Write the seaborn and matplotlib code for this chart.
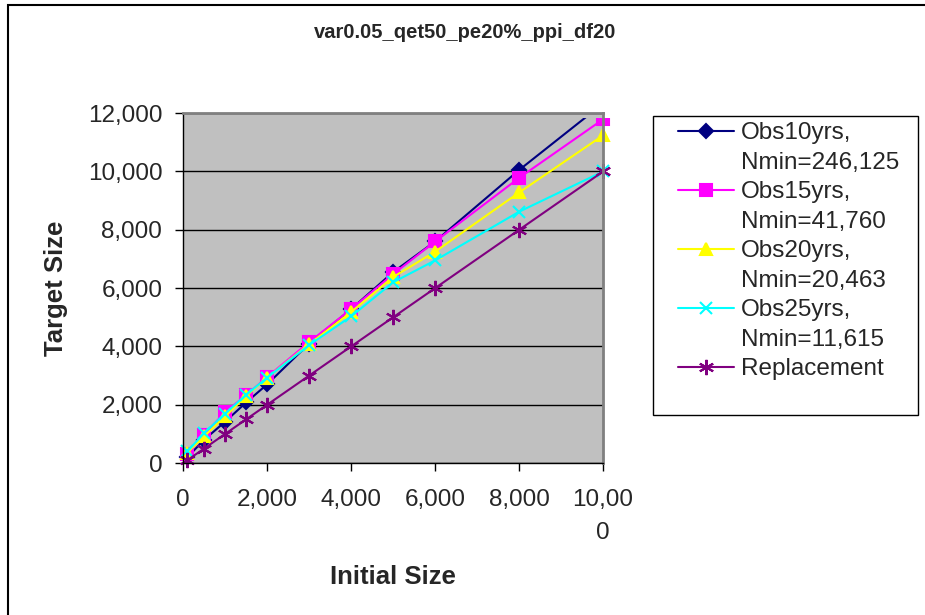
import pandas as pd
import matplotlib.pyplot as plt
import matplotlib.ticker as mticker
from matplotlib.patches import Rectangle
from matplotlib.lines import Line2D
import seaborn as sns

# initial sizes (x axis)
initial = [100, 500, 1000, 1500, 2000, 3000, 4000, 5000, 6000, 8000, 10000]

# target sizes
obs10 = [200, 800, 1420, 2080, 2700, 4100, 5280, 6550, 7600, 10050, 12330]
obs15 = [300, 980, 1750, 2330, 2950, 4150, 5280, 6480, 7600, 9780, 11790]
obs20 = [360, 920, 1600, 2300, 2930, 4080, 5180, 6380, 7250, 9280, 11240]
obs25 = [400, 1030, 1700, 2340, 2930, 4050, 5030, 6200, 6950, 8620, 10000]
replacement = [100, 500, 1000, 1500, 2000, 3000, 4000, 5000, 6000, 8000, 10000]

names = ["Obs10yrs,", "Obs15yrs,", "Obs20yrs,", "Obs25yrs,", "Replacement"]
nmins = ["Nmin=246,125", "Nmin=41,760", "Nmin=20,463", "Nmin=11,615", None]
series = [obs10, obs15, obs20, obs25, replacement]
colors = ["#000080", "#FF00FF", "#FFFF00", "#00FFFF", "#800080"]
marks = ["D", "s", "^", "x", (6, 2, 0)]
msizes = [7, 8, 9, 9, 11]

sns.set_style("white")
plt.rcParams['font.family'] = ['Liberation Sans', 'DejaVu Sans']

fig = plt.figure(figsize=(9.25, 6.15), dpi=100)
ax = fig.add_axes([0.198, 0.247, 0.454, 0.569])
ax.set_facecolor("#C0C0C0")

for lab, vals, c, m, ms in zip(names, series, colors, marks, msizes):
    d = pd.DataFrame({"Initial Size": initial, "Target Size": vals})
    sns.lineplot(data=d, x="Initial Size", y="Target Size", color=c, marker=m,
                 markersize=ms, markeredgecolor=c, markeredgewidth=1.5,
                 linewidth=1.5, label=lab, ax=ax, legend=False)

# clip a little outside the plot area, like the original
clip = Rectangle((-0.03, -0.03), 1.06, 1.015, transform=ax.transAxes)
for l in ax.lines:
    l.set_clip_path(clip)

ax.set_xlim(0, 10000)
ax.set_ylim(0, 12000)
ax.set_yticks(range(0, 12001, 2000))
ax.set_xticks(range(0, 10001, 2000))
ax.yaxis.set_major_formatter(mticker.FuncFormatter(lambda v, p: f"{int(v):,}"))
ax.set_xticklabels(["0", "2,000", "4,000", "6,000", "8,000", "10,00\n0"], linespacing=1.64)
ax.tick_params(axis="both", labelsize=17.5, direction="out", length=6, width=1,
               color="black", bottom=True, left=True)
ax.tick_params(axis="x", pad=13)
ax.tick_params(axis="y", pad=9)
ax.yaxis.grid(True, color="black", linewidth=1)
ax.set_axisbelow(True)
for side in ["left", "bottom"]:
    ax.spines[side].set_color("black")
    ax.spines[side].set_linewidth(1)
for side in ["right", "top"]:
    ax.spines[side].set_color("#808080")
    ax.spines[side].set_linewidth(2)

ax.set_xlabel("Initial Size", fontsize=18.5, fontweight="bold", labelpad=15)
ax.set_ylabel("Target Size", fontsize=18.5, fontweight="bold", labelpad=14)
fig.text(0.503, 1 - 38 / 615, "var0.05_qet50_pe20%_ppi_df20", fontsize=14.5,
         fontweight="bold", ha="center", va="baseline")

# legend: one row per text line, handle only on the first line
handles, texts = [], []
for l, nm, nmin in zip(ax.lines, names, nmins):
    handles.append(l)
    texts.append(nm)
    if nmin:
        handles.append(Line2D([], [], linestyle="none"))
        texts.append(nmin)
leg = fig.legend(handles, texts, loc="upper left",
                 bbox_to_anchor=(678 / 925, 1 - 122 / 615), fontsize=17.5,
                 frameon=False, borderpad=0, handlelength=2.3, handletextpad=0.3,
                 labelspacing=0.31, borderaxespad=0)
fig.patches.append(Rectangle((653 / 925, 1 - 415 / 615), 265 / 925, 299 / 615,
                             transform=fig.transFigure, fill=False,
                             edgecolor="black", linewidth=1))

# chart frame: only its top and left edges fall inside the picture
fig.patches.append(Rectangle((8 / 925, -0.05), 1.2, 1 - 5 / 615 + 0.05,
                             transform=fig.transFigure, fill=False,
                             edgecolor="black", linewidth=1.5))

fig.savefig("out.png", dpi=100)
